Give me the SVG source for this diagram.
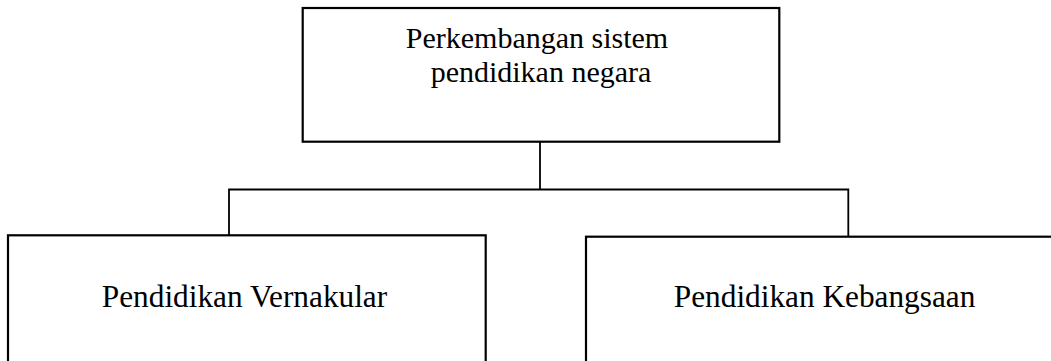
<svg xmlns="http://www.w3.org/2000/svg" width="1051" height="361" viewBox="0 0 1051 361">
<style>
.box{fill:#fff;stroke:#000;stroke-width:2.2}
.t{font-family:"Liberation Serif","Times New Roman",serif;font-size:30px;fill:#000}
.b{font-size:31.3px}
.c{fill:none;stroke:#000;stroke-width:1.8}
</style>
<rect width="1051" height="361" fill="#fff"/>
<g id="connectors">
<line class="c" x1="540" y1="141.7" x2="540" y2="189.5"/>
<polyline class="c" points="229,235.3 229,189.5 848.3,189.5 848.3,236.7"/>
</g>
<g id="node-top">
<rect class="box" x="302.7" y="8" width="476.6" height="133.7"/>
<text class="t" x="537" y="47.5" text-anchor="middle">Perkembangan sistem</text>
<text class="t" x="541" y="82" text-anchor="middle">pendidikan negara</text>
</g>
<g id="node-vernakular">
<rect class="box" x="8" y="235.3" width="477.7" height="140"/>
<text class="t b" x="244.5" y="307" text-anchor="middle">Pendidikan Vernakular</text>
</g>
<g id="node-kebangsaan">
<rect class="box" x="586" y="236.7" width="480" height="140"/>
<text class="t b" x="824.6" y="307" text-anchor="middle">Pendidikan Kebangsaan</text>
</g>
</svg>
